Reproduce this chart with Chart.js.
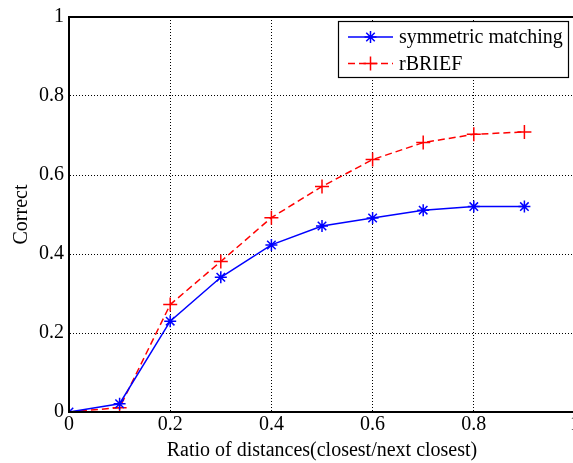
<!DOCTYPE html>
<html>
<head>
<meta charset="utf-8">
<script src="https://cdn.jsdelivr.net/npm/chart.js@4"></script>
<style>
  html, body { margin: 0; padding: 0; overflow: hidden; background: #fff; }
</style>
</head>
<body>
<canvas id="chart" width="590" height="463"></canvas>
<script>
const ratios = [0, 0.1, 0.2, 0.3, 0.4, 0.5, 0.6, 0.7, 0.8, 0.9];
const symmetric = [0, 0.021, 0.23, 0.341, 0.423, 0.471, 0.491, 0.511, 0.52, 0.52];
const rbrief = [0, 0.011, 0.272, 0.381, 0.492, 0.571, 0.639, 0.682, 0.703, 0.709];
const seriesNames = ["symmetric matching", "rBRIEF"];

const serif = "'Liberation Serif', 'DejaVu Serif', serif";
const font = { family: serif, size: 20 };

const toPoints = (ys) => ratios.map((x, i) => ({ x, y: ys[i] }));

// box around plot + legend in the top right, matlab style
const frame = {
  id: "frame",
  afterDraw(chart) {
    const { ctx, chartArea: a } = chart;
    ctx.save();
    ctx.strokeStyle = "#000";
    ctx.lineWidth = 2;
    ctx.strokeRect(a.left, a.top, a.right - a.left, a.bottom - a.top);

    const bx = 338.5, by = 21.5, bw = 230, bh = 56;
    ctx.fillStyle = "#fff";
    ctx.fillRect(bx, by, bw, bh);
    ctx.lineWidth = 1.2;
    ctx.strokeRect(bx, by, bw, bh);

    chart.data.datasets.forEach((ds, i) => {
      const y = 37 + i * 26.5;
      ctx.strokeStyle = ds.borderColor;
      ctx.lineWidth = ds.borderWidth;
      ctx.setLineDash(ds.borderDash || []);
      ctx.beginPath();
      ctx.moveTo(348, y);
      ctx.lineTo(393, y);
      ctx.stroke();
      ctx.setLineDash([]);
      ctx.lineWidth = ds.pointBorderWidth;
      Chart.helpers.drawPoint(ctx, {
        pointStyle: ds.pointStyle,
        radius: ds.pointRadius,
        borderWidth: ds.pointBorderWidth,
        rotation: 0,
      }, 370.5, y);
      ctx.fillStyle = "#000";
      ctx.font = `20px ${serif}`;
      ctx.textBaseline = "middle";
      ctx.fillText(ds.label, 399, y + 1);
    });
    ctx.restore();
  },
};

new Chart("chart", {
  type: "line",
  plugins: [frame],
  data: {
    datasets: [
      {
        label: seriesNames[0],
        data: toPoints(symmetric),
        borderColor: "#0000ff",
        backgroundColor: "#0000ff",
        borderWidth: 1.5,
        pointStyle: "star",
        pointRadius: 6,
        pointBorderWidth: 1.5,
        fill: false,
      },
      {
        label: seriesNames[1],
        data: toPoints(rbrief),
        borderColor: "#ff0000",
        backgroundColor: "#ff0000",
        borderWidth: 1.5,
        borderDash: [7, 4],
        pointStyle: "cross",
        pointRadius: 7,
        pointBorderWidth: 1.5,
        fill: false,
      },
    ],
  },
  options: {
    responsive: false,
    animation: false,
    devicePixelRatio: 1,
    layout: { padding: { left: 0, top: 13, right: 15, bottom: 0 } },
    plugins: {
      legend: { display: false },
      tooltip: { enabled: false },
    },
    scales: {
      x: {
        type: "linear",
        min: 0,
        max: 1,
        afterFit: (s) => { s.height = 51; },
        ticks: {
          stepSize: 0.2,
          color: "#000",
          font,
          padding: 1,
          maxRotation: 0,
          callback: (v) => String(Math.round(v * 10) / 10),
        },
        grid: { color: "#000", lineWidth: 1, drawTicks: false },
        border: { color: "#000", width: 2, dash: [1, 2] },
        title: {
          display: true,
          text: "Ratio of distances(closest/next closest)",
          color: "#000",
          font,
          padding: { top: 0, bottom: 0 },
        },
      },
      y: {
        min: 0,
        max: 1,
        afterFit: (s) => { s.width = 69; },
        ticks: {
          stepSize: 0.2,
          color: "#000",
          font,
          padding: 5,
          callback: (v) => String(Math.round(v * 10) / 10),
        },
        grid: { color: "#000", lineWidth: 1, drawTicks: false },
        border: { color: "#000", width: 2, dash: [1, 2] },
        title: {
          display: true,
          text: "Correct",
          color: "#000",
          font,
          padding: { top: 10, bottom: 4 },
        },
      },
    },
  },
});
</script>
</body>
</html>
